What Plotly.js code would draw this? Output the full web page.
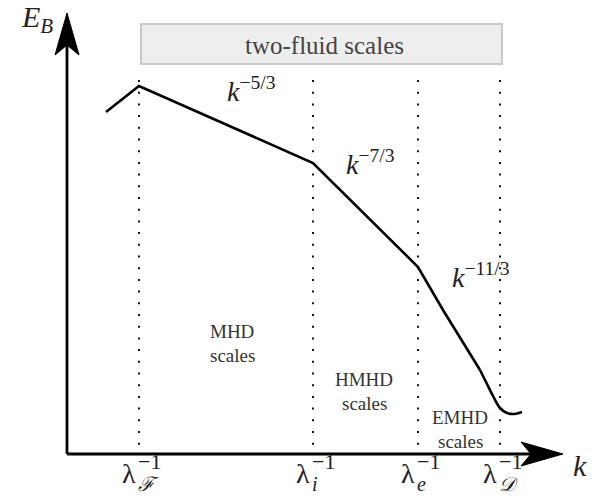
<!DOCTYPE html>
<html>
<head>
<meta charset="utf-8">
<script src="https://cdn.plot.ly/plotly-3.0.1.min.js"></script>
<style>html,body{margin:0;padding:0;background:#fff;}#chart{width:609px;height:498px;}</style>
</head>
<body>
<div id="chart"></div>
<script>
// Schematic spectrum (k on x, E_B on y, drawing units; y grows downward)
const curveK = [106, 139, 313, 418, 443, 470, 480];
const curveE = [112, 86, 163, 267, 310, 353, 370];
const tailK = [480, 486, 493, 500, 507, 514, 522];
const tailE = [370, 382, 396, 408, 413, 414, 412];

const scaleK = [139, 313, 418, 500];
const scaleSubText = ['<i>\u2131</i>', '<i>i</i>', '<i>e</i>', '<i>\uD835\uDC9F</i>'];

const slopeLabels = ['<i>k</i><sup>\u22125/3</sup>', '<i>k</i><sup>\u22127/3</sup>', '<i>k</i><sup>\u221211/3</sup>'];
const slopeK = [251, 370, 481];
const slopeE = [89, 162, 275];

const regionTop = ['MHD', 'HMHD', 'EMHD'];
const regionBottom = ['scales', 'scales', 'scales'];
const regionK = [232, 364, 460];
const regionE = [331, 379, 417];

const bandLabel = 'two-fluid scales';
const axisX0 = 67, axisY0 = 454, dotTop = 80;

const serif = "'Liberation Serif', 'DejaVu Serif', serif";

const traces = [];
scaleK.forEach(k => traces.push({
  x: [k, k], y: [dotTop, axisY0], mode: 'lines', hoverinfo: 'skip',
  line: {color: '#111', width: 2, dash: '2px,9.7px'}
}));
traces.push({x: curveK, y: curveE, mode: 'lines', hoverinfo: 'skip',
  line: {color: '#000', width: 2.6}});
traces.push({x: tailK, y: tailE, mode: 'lines', hoverinfo: 'skip',
  line: {color: '#000', width: 2.6, shape: 'spline', smoothing: 1}});
traces.push({x: [axisX0, axisX0], y: [axisY0, 40], mode: 'lines', hoverinfo: 'skip',
  line: {color: '#000', width: 2.8}});
traces.push({x: [axisX0, 530], y: [axisY0, axisY0], mode: 'lines', hoverinfo: 'skip',
  line: {color: '#000', width: 2.8}});

const annotations = [];
slopeLabels.forEach((t, i) => annotations.push({
  x: slopeK[i], y: slopeE[i], text: t, showarrow: false,
  font: {family: serif, size: 28, color: '#222'}
}));
regionTop.forEach((t, i) => {
  annotations.push({x: regionK[i], y: regionE[i], text: t, showarrow: false,
    font: {family: serif, size: 19, color: '#333'}});
  annotations.push({x: regionK[i], y: regionE[i] + 24, text: regionBottom[i], showarrow: false,
    font: {family: serif, size: 19, color: '#333'}});
});
scaleK.forEach((k, i) => {
  annotations.push({x: k, y: 473, text: '\u03BB', showarrow: false, xanchor: 'right',
    xshift: -1, font: {family: serif, size: 28, color: '#222'}});
  annotations.push({x: k, y: 461, text: '\u22121', showarrow: false, xanchor: 'left',
    xshift: -3, font: {family: serif, size: 22, color: '#222'}});
  annotations.push({x: k, y: 484, text: scaleSubText[i], showarrow: false, xanchor: 'left',
    xshift: -3, font: {family: serif, size: 20, color: '#222'}});
});
annotations.push({x: 324, y: 45, text: bandLabel, showarrow: false,
  font: {family: serif, size: 25, color: '#444'}});
annotations.push({x: 37, y: 19, text: '<i>E</i><sub><i>B</i></sub>', showarrow: false,
  font: {family: serif, size: 30, color: '#222'}});
annotations.push({x: 580, y: 465, text: '<i>k</i>', showarrow: false,
  font: {family: serif, size: 30, color: '#222'}});

const shapes = [
  {type: 'rect', xref: 'x', yref: 'y', x0: 141, x1: 502, y0: 24, y1: 64,
   fillcolor: '#eeeeee', line: {color: '#c8c8c8', width: 2}, layer: 'below'},
  {type: 'path', xref: 'x', yref: 'y',
   path: `M ${axisX0} 13 L ${axisX0 + 12} 55 L ${axisX0} 45 L ${axisX0 - 12} 55 Z`,
   fillcolor: '#000', line: {color: '#000', width: 1}},
  {type: 'path', xref: 'x', yref: 'y',
   path: `M 563 ${axisY0} L 521 ${axisY0 + 12} L 531 ${axisY0} L 521 ${axisY0 - 12} Z`,
   fillcolor: '#000', line: {color: '#000', width: 1}}
];

const layout = {
  width: 609, height: 498,
  margin: {l: 0, r: 0, t: 0, b: 0},
  paper_bgcolor: '#fff', plot_bgcolor: '#fff',
  showlegend: false,
  xaxis: {range: [0, 609], visible: false, fixedrange: true},
  yaxis: {range: [498, 0], visible: false, fixedrange: true},
  annotations, shapes
};
Plotly.newPlot('chart', traces, layout, {displayModeBar: false, staticPlot: true});
</script>
</body>
</html>
